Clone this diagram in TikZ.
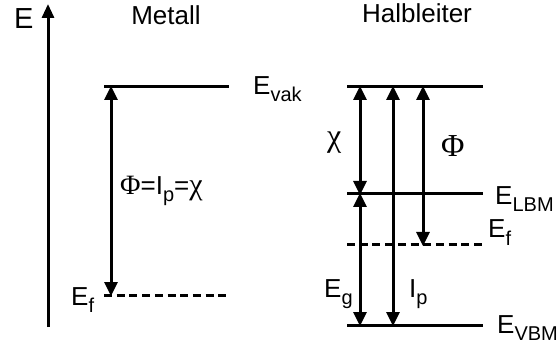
\documentclass[tikz,border=0pt]{standalone}
\usepackage{fontspec}
\setmainfont{Liberation Sans}
\newfontfamily\grk{Liberation Serif}
\usetikzlibrary{arrows.meta}
\newcommand\lowtxt[1]{\raisebox{-7pt}{\fontsize{20}{20}\selectfont #1}}
\tikzset{
  lvl/.style={line width=3pt},
  dlvl/.style={line width=3pt, dash pattern=on 8pt off 4.7pt},
  darr/.style={line width=3pt, {Triangle[length=14pt,width=13pt]}-{Triangle[length=14pt,width=13pt]}, shorten <=-1pt, shorten >=-1pt},
  lab/.style={inner sep=0pt, font=\fontsize{26}{26}\selectfont},
}
\begin{document}
\begin{tikzpicture}[x=1pt,y=-1pt]
\useasboundingbox (0,0) rectangle (559,347);
% energy axis
\coordinate (ax0) at (48,327);
\coordinate (ax1) at (48,4);
\draw[line width=3pt,-{Triangle[length=14pt,width=12pt]}] (ax0) -- (ax1);
\node[lab, anchor=base west, font=\fontsize{29}{29}\selectfont] (elab) at (14,29) {E};
% Metall
\node[lab, anchor=base] (tmet) at (166,25) {Metall};
\coordinate (mv0) at (104,87); \coordinate (mv1) at (229,87);
\coordinate (mf0) at (104,295); \coordinate (mf1) at (229,295);
\draw[lvl] (mv0) -- (mv1);
\draw[dlvl] (mf0) -- (mf1);
\coordinate (ma) at (111,87); \coordinate (mb) at (111,295);
\draw[darr] (ma) -- (mb);
\node[lab, anchor=base west] (evak) at (253,95) {E\lowtxt{vak}};
\node[lab, anchor=base west] (emf) at (71,305) {E\lowtxt{f}};
\node[lab, anchor=base west] (mphi) at (120,195) {{\grk\fontsize{28}{28}\selectfont Φ}=I\lowtxt{p}={\grk\fontsize{30}{30}\selectfont χ}};
% Halbleiter
\node[lab, anchor=base] (thl) at (417,23) {Halbleiter};
\coordinate (sv0) at (347,87); \coordinate (sv1) at (483,87);
\coordinate (sl0) at (347,194); \coordinate (sl1) at (483,194);
\coordinate (sf0) at (347,245); \coordinate (sf1) at (485,245);
\coordinate (sb0) at (347,325); \coordinate (sb1) at (483,325);
\draw[lvl] (sv0) -- (sv1);
\draw[lvl] (sl0) -- (sl1);
\draw[dlvl] (sf0) -- (sf1);
\draw[lvl] (sb0) -- (sb1);
\coordinate (c0) at (360,87); \coordinate (c1) at (360,194); \coordinate (c2) at (360,325);
\coordinate (i0) at (393,87); \coordinate (i1) at (393,325);
\coordinate (p0) at (423,87); \coordinate (p1) at (423,245);
\draw[darr] (c0) -- (c1);
\draw[darr] (c1) -- (c2);
\draw[darr] (i0) -- (i1);
\draw[darr] (p0) -- (p1);
\node[lab, anchor=base west] (schi) at (327,147) {\grk\fontsize{32}{32}\selectfont χ};
\node[lab, anchor=base west] (sphi) at (441,157) {\grk\fontsize{32}{32}\selectfont Φ};
\node[lab, anchor=base west] (eg) at (324,297) {E\lowtxt{g}};
\node[lab, anchor=base west] (ip) at (409,297) {I\lowtxt{p}};
\node[lab, anchor=base west] (elbm) at (495,205) {E\lowtxt{LBM}};
\node[lab, anchor=base west] (esf) at (488,238) {E\lowtxt{f}};
\node[lab, anchor=base west] (evbm) at (497,333) {E\lowtxt{VBM}};
\end{tikzpicture}
\end{document}
